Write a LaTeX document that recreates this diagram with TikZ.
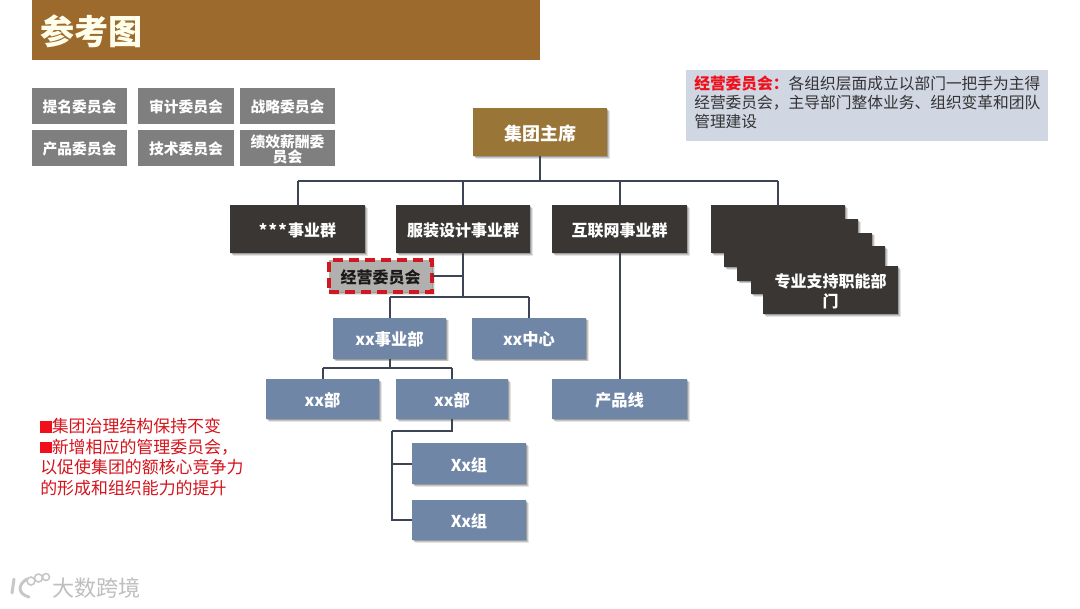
\documentclass[tikz,border=0pt]{standalone}
\usepackage{fontspec}
\setmainfont{Noto Sans CJK SC}
\usetikzlibrary{shadows}
\definecolor{titlebrown}{HTML}{9C6A2C}
\definecolor{chairbrown}{HTML}{9A7538}
\definecolor{comgrey}{HTML}{7F7F7F}
\definecolor{darkbox}{HTML}{3A3634}
\definecolor{bluebox}{HTML}{6F86A6}
\definecolor{infobg}{HTML}{D0D6E2}
\definecolor{linecol}{HTML}{3C4456}
\definecolor{redtxt}{HTML}{D5141C}
\definecolor{redkey}{HTML}{F0101C}
\definecolor{dashred}{HTML}{D01820}
\definecolor{midgrey}{HTML}{B2B0AE}
\newcommand\dn[1]{\raisebox{-1pt}[\height][\depth]{#1}}
\tikzset{
  wh/.style 2 args={minimum width=#1*0.75pt,minimum height=#2*0.75pt,inner sep=0pt,outer sep=0pt},
  softshadow/.style={
    drop shadow={shadow xshift=2.2pt,shadow yshift=-2.2pt,opacity=.10,fill=black},
    drop shadow={shadow xshift=1.6pt,shadow yshift=-1.6pt,opacity=.14,fill=black},
    drop shadow={shadow xshift=1pt,shadow yshift=-1pt,opacity=.20,fill=black}},
  com/.style={fill=comgrey,text=white,font=\fontsize{11.1}{11.5}\selectfont\bfseries,align=center,wh={96}{36}},
  chair/.style={fill=chairbrown,text=white,font=\fontsize{13.5}{16}\selectfont\bfseries,align=center,wh={134}{48},softshadow},
  dark/.style={fill=darkbox,text=white,font=\fontsize{12}{14.5}\selectfont\bfseries,align=center,wh={135}{48},softshadow},
  blue/.style={fill=bluebox,text=white,font=\fontsize{12.2}{14}\selectfont\bfseries,align=center,softshadow},
  conn/.style={draw=linecol,line width=1.5pt},
}
\begin{document}
\begin{tikzpicture}[x=0.75pt,y=-0.75pt]
\useasboundingbox (0,0) rectangle (1080,608);
\fill[white] (0,0) rectangle (1080,608);
% title
\node[fill=titlebrown,wh={508}{60}] (title) at (286,30) {};
\node[text=white!92!yellow,font=\fontsize{25.6}{26}\selectfont\bfseries,anchor=west,inner sep=0pt] (titletext) at (40,31) {参考图};
% committees
\node[com,wh={95}{36}] (c1) at (79.5,106) {\dn{提名委员会}};
\node[com] (c2) at (186,106) {\dn{审计委员会}};
\node[com,wh={95}{36}] (c3) at (287.5,106) {\dn{战略委员会}};
\node[com,wh={95}{36}] (c4) at (79.5,148) {\dn{产品委员会}};
\node[com] (c5) at (186,148) {\dn{技术委员会}};
\node[com,wh={95}{36}] (c6) at (287.5,148) {\dn{绩效薪酬委}\\\dn{员会}};
% info
\node[fill=infobg,wh={362}{71}] (info) at (867,105.5) {};
\node[anchor=north west,inner sep=0pt,font=\fontsize{11.8}{14.1}\selectfont,text=black!80,align=left] (infotext) at (694,76)
 {{\color{redkey}\bfseries 经营委员会：}各组织层面成立以部门一把手为主得\\经营委员会，主导部门整体业务、组织变革和团队\\管理建设};
% org
\node[chair] (top) at (540,132) {\dn{集团主席}};
\node[dark] (g1) at (297.5,229) {\dn{*\hspace{1pt}*\hspace{1pt}*\hspace{1pt}事业群}};
\node[dark,wh={134}{48}] (g2) at (463,229) {\dn{服装设计事业群}};
\node[dark] (g3) at (619.5,229) {\dn{互联网事业群}};
\node[dark,wh={134}{48}] (s1) at (778,229) {};
\node[dark,wh={134}{48}] (s2) at (791,243) {};
\node[dark,wh={135}{48}] (s3) at (804.5,256.5) {};
\node[dark,wh={134}{48}] (s4) at (818,270) {};
\node[dark,wh={135}{48}] (s5) at (830.5,290) {\dn{专业支持职能部}\\\dn{门}};
\node[fill=midgrey,draw=dashred,line width=2.5pt,dash pattern=on 7.5pt off 4.5pt,wh={103}{32},font=\fontsize{12}{14}\selectfont\bfseries,text=black!90,softshadow] (jy) at (380.5,276) {\dn{经营委员会}};
\node[blue,wh={113}{41}] (d1) at (389.5,338) {\dn{xx事业部}};
\node[blue,wh={114}{41}] (d2) at (529,338) {\dn{xx中心}};
\node[blue,wh={113}{40}] (b1) at (322.5,399) {\dn{xx部}};
\node[blue,wh={112}{40}] (b2) at (452,399) {\dn{xx部}};
\node[blue,wh={135}{40}] (b3) at (619.5,399) {\dn{产品线}};
\node[blue,wh={114}{41}] (x1) at (469,463.5) {\dn{Xx组}};
\node[blue,wh={114}{40}] (x2) at (469,520) {\dn{Xx组}};
% connectors
\coordinate (busA) at (540,181);
\coordinate (busB) at (463,297);
\coordinate (busC) at (389.5,368);
\coordinate (busD) at (392,431);
\draw[conn] (top.south) -- (busA);
\draw[conn] (g1.north |- busA) -- (s1.north |- busA);
\draw[conn] (g1.north) -- (g1.north |- busA);
\draw[conn] (g2.north) -- (g2.north |- busA);
\draw[conn] (g3.north) -- (g3.north |- busA);
\draw[conn] (s1.north) -- (s1.north |- busA);
\draw[conn] (g2.south) -- (busB);
\draw[conn] (jy.east) -- (jy.east -| g2.south);
\draw[conn] (d1.north |- busB) -- (d2.north |- busB);
\draw[conn] (d1.north) -- (d1.north |- busB);
\draw[conn] (d2.north) -- (d2.north |- busB);
\draw[conn] (d1.south) -- (busC);
\draw[conn] (b1.north |- busC) -- (b2.north |- busC);
\draw[conn] (b1.north) -- (b1.north |- busC);
\draw[conn] (b2.north) -- (b2.north |- busC);
\draw[conn] (g3.south) -- (b3.north);
\draw[conn] (b2.south) |- (busD);
\draw[conn] (busD) |- (x2.west);
\draw[conn] (x1.west) -- (x1.west -| busD);
% note
\node[anchor=north west,inner sep=0pt,font=\fontsize{12.7}{15.4}\selectfont,text=redtxt,align=left] (note) at (40,418)
 {{\color{redkey}\rule{0.68em}{0.68em}}集团治理结构保持不变\\{\color{redkey}\rule{0.68em}{0.68em}}新增相应的管理委员会，\\以促使集团的额核心竞争力\\的形成和组织能力的提升};
% watermark
\node[anchor=west,inner sep=0pt,font=\fontsize{16.6}{17}\selectfont,text=black!25] (wm) at (52,588) {大数跨境};
\draw[black!22,line width=2.2pt,line cap=round] (14,579) -- (12,593) (27,579) .. controls (17,585) and (18,594) .. (29,597);
\draw[black!22,line width=1.2pt] (31,581) circle (4) (38.5,578) circle (4) (46,577) circle (3.5);
\end{tikzpicture}
\end{document}
